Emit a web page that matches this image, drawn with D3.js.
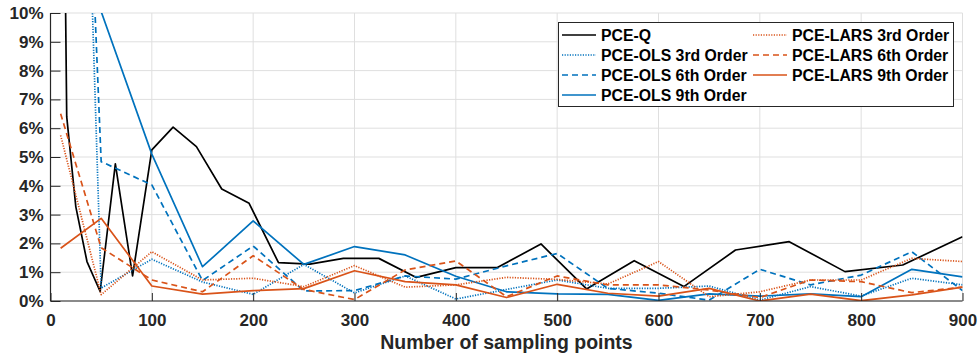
<!DOCTYPE html>
<html>
<head>
<meta charset="utf-8">
<script src="https://cdn.jsdelivr.net/npm/d3@7"></script>
<style>
  body { margin: 0; background: #fff; }
  text { font-family: "Liberation Sans", Arial, sans-serif; font-weight: bold; fill: #262626; }
</style>
</head>
<body>
<div id="chart"></div>
<script>
// sampling points
var xQuad = [9, 16, 25, 36, 49, 64, 81, 100, 121, 144, 169, 196, 225, 256, 289, 324, 361,
             400, 441, 484, 529, 576, 625, 676, 729, 784, 841, 900];
var xReg = [10, 50, 100, 150, 200, 250, 300, 350, 400, 450, 500, 550, 600, 650, 700, 750, 800, 850, 900];

// errors in %
var pceQ = [30, 6.4, 3.27, 1.37, 0.33, 4.76, 0.87, 5.25, 6.04, 5.36, 3.89, 3.39, 1.33, 1.28, 1.48,
            1.48, 0.82, 1.16, 1.16, 1.98, 0.42, 1.4, 0.5, 1.77, 2.06, 1.02, 1.25, 2.23];
var ols3 = [45, 0.45, 1.45, 0.66, 0.23, 1.27, 0.28, 0.87, 0.07, 0.4, 0.73, 0.44, 0.44, 0.52, 0.03, 0.5, 0.17, 0.79, 0.56];
var ols6 = [39, 4.84, 4.03, 0.71, 1.91, 0.35, 0.36, 0.87, 0.76, 1.22, 1.65, 0.44, 0.27, 0.03, 1.1, 0.56, 0.9, 1.71, 0.36];
var ols9 = [null, 10.05, 5.1, 1.19, 2.78, 1.27, 1.89, 1.6, 0.86, 0.32, 0.25, 0.23, 0.02, 0.25, 0.17, 0.25, 0.15, 1.1, 0.84];
var lars3 = [5.75, 0.22, 1.71, 0.73, 0.79, 0.5, 1.23, 0.48, 0.56, 0.82, 0.75, 0.59, 1.37, 0.15, 0.32, 0.73, 0.73, 1.48, 1.37];
var lars6 = [6.5, 1.85, 0.73, 0.32, 1.57, 0.4, 0.05, 1.08, 1.39, 0.15, 0.87, 0.56, 0.56, 0.38, 0.12, 0.73, 0.67, 0.29, 0.48];
var lars9 = [1.83, 2.87, 0.52, 0.24, 0.36, 0.43, 1.05, 0.67, 0.56, 0.12, 0.58, 0.27, 0.17, 0.44, 0.0, 0.24, 0.01, 0.21, 0.48];

var xTicks = [0, 100, 200, 300, 400, 500, 600, 700, 800, 900];
var yTicks = [0, 1, 2, 3, 4, 5, 6, 7, 8, 9, 10];

var blue = "#0072BD", orange = "#D95319";
var series = [
  { name: "PCE-Q", x: xQuad, y: pceQ, color: "#000", dash: null },
  { name: "PCE-OLS 3rd Order", x: xReg, y: ols3, color: blue, dash: "1.2,1.4" },
  { name: "PCE-OLS 6th Order", x: xReg, y: ols6, color: blue, dash: "6,4" },
  { name: "PCE-OLS 9th Order", x: xReg, y: ols9, color: blue, dash: null },
  { name: "PCE-LARS 3rd Order", x: xReg, y: lars3, color: orange, dash: "1.2,1.4" },
  { name: "PCE-LARS 6th Order", x: xReg, y: lars6, color: orange, dash: "6,4" },
  { name: "PCE-LARS 9th Order", x: xReg, y: lars9, color: orange, dash: null }
];

var margin = { left: 50.5, right: 16.5, top: 13, bottom: 57 };
var W = 979, H = 358;
var width = W - margin.left - margin.right;
var height = H - margin.top - margin.bottom;

var svg = d3.select("#chart").append("svg")
    .attr("width", W).attr("height", H);
var g = svg.append("g")
    .attr("transform", "translate(" + margin.left + "," + margin.top + ")");

var x = d3.scaleLinear().domain([0, 900]).range([0, width]);
var y = d3.scaleLinear().domain([0, 10]).range([height, 0]);

// grid
g.append("g").selectAll("line").data(xTicks).join("line")
    .attr("x1", d => x(d)).attr("x2", d => x(d))
    .attr("y1", 0).attr("y2", height)
    .style("stroke", "#dfdfdf").style("stroke-width", 1);
g.append("g").selectAll("line").data(yTicks).join("line")
    .attr("x1", 0).attr("x2", width)
    .attr("y1", d => y(d)).attr("y2", d => y(d))
    .style("stroke", "#dfdfdf").style("stroke-width", 1);

g.append("clipPath").attr("id", "plot-clip")
  .append("rect").attr("width", width).attr("height", height);

var line = d3.line()
    .defined(d => d[1] != null)
    .x(d => x(d[0]))
    .y(d => y(d[1]));

g.append("g").attr("clip-path", "url(#plot-clip)")
  .selectAll("path").data(series).join("path")
    .attr("d", s => line(s.x.map((v, i) => [v, s.y[i]])))
    .style("fill", "none")
    .style("stroke", s => s.color)
    .style("stroke-width", 1.7)
    .style("stroke-linejoin", "round")
    .style("stroke-dasharray", s => s.dash);

// axes
var xAxis = g.append("g")
    .attr("transform", "translate(0," + height + ")")
    .call(d3.axisBottom(x).tickValues(xTicks).tickSize(-8).tickPadding(13));
var yAxis = g.append("g")
    .call(d3.axisLeft(y).tickValues(yTicks).tickSize(-10).tickPadding(7)
      .tickFormat(d => d + "%"));
[xAxis, yAxis].forEach(function(a){
  a.select(".domain").style("stroke", "#262626").style("stroke-width", 1.2);
  a.selectAll(".tick line").style("stroke", "#262626").style("stroke-width", 1);
  a.selectAll(".tick text").style("font-size", "17px").style("fill", "#262626");
});
xAxis.select(".domain").attr("d", "M0,0H" + width);
yAxis.select(".domain").attr("d", "M0," + height + "V0");

svg.append("text")
    .attr("x", margin.left + width / 2)
    .attr("y", 349)
    .attr("text-anchor", "middle")
    .style("font-size", "19.5px")
    .text("Number of sampling points");

// legend
var lg = svg.append("g");
lg.append("rect")
    .attr("x", 558.5).attr("y", 22.5).attr("width", 395).attr("height", 84)
    .style("fill", "#fff").style("stroke", "#262626").style("stroke-width", 1);
var item = lg.selectAll("g.item").data(series).join("g")
    .attr("class", "item")
    .attr("transform", (d, i) => "translate(" + (i < 4 ? 562 : 753) + "," + (35 + (i < 4 ? i : i - 4) * 20) + ")");
item.append("line")
    .attr("x1", 0).attr("x2", 34)
    .style("stroke", d => d.color).style("stroke-width", 1.7)
    .style("stroke-dasharray", d => d.dash);
item.append("text")
    .attr("x", 39).attr("dy", "0.35em")
    .style("font-size", "15.8px")
    .style("fill", "#000")
    .text(d => d.name);
</script>
</body>
</html>
